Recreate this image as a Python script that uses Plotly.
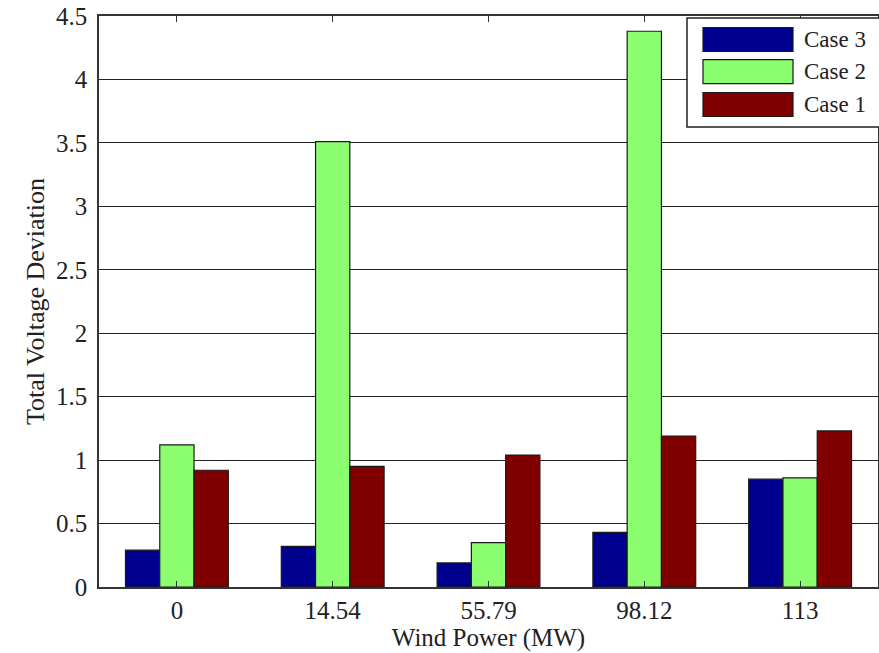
import plotly.graph_objects as go

categories = ["0", "14.54", "55.79", "98.12", "113"]
series_names = ["Case 3", "Case 2", "Case 1"]
case3 = [0.29, 0.32, 0.19, 0.43, 0.85]
case2 = [1.12, 3.51, 0.35, 4.38, 0.86]
case1 = [0.92, 0.95, 1.04, 1.19, 1.23]
y_ticks = [0, 0.5, 1, 1.5, 2, 2.5, 3, 3.5, 4, 4.5]
colors = ["#00008F", "#8CFF70", "#800000"]

W, H = 879, 653
ML, MR, MT, MB = 99, 1, 16, 66
FONT = "Liberation Serif, Times New Roman, serif"

fig = go.Figure()
for name, vals, col in zip(series_names, [case3, case2, case1], colors):
    fig.add_trace(go.Bar(
        x=categories, y=vals, name=name,
        marker=dict(color=col, line=dict(color="#1a1a1a", width=1.2)),
        showlegend=False,
    ))

# custom MATLAB-style legend (paper coordinates from pixel layout)
pw, ph = W - ML - MR, H - MT - MB
def px(x):
    return (x - ML) / pw
def py(y):
    return 1 - (y - MT) / ph

shapes = [dict(type="rect", xref="paper", yref="paper",
               x0=px(687), x1=px(882), y0=py(127), y1=py(18),
               fillcolor="white", line=dict(color="#222", width=1.5), layer="above")]
annotations = []
row_centers = [39.5, 71.7, 104.5]
for name, col, yc in zip(series_names, colors, row_centers):
    shapes.append(dict(type="rect", xref="paper", yref="paper",
                       x0=px(703), x1=px(793), y0=py(yc + 12), y1=py(yc - 12),
                       fillcolor=col, line=dict(color="#1a1a1a", width=1.2), layer="above"))
    annotations.append(dict(xref="paper", yref="paper", x=px(802), y=py(yc),
                            text=name, showarrow=False, xanchor="left", yanchor="middle",
                            font=dict(family=FONT, size=23, color="#222")))

fig.update_layout(
    width=W, height=H,
    margin=dict(l=ML, r=MR, t=MT, b=MB),
    paper_bgcolor="white", plot_bgcolor="white",
    barmode="group", bargap=0.34, bargroupgap=0,
    font=dict(family=FONT, size=24, color="#222"),
    shapes=shapes, annotations=annotations,
    xaxis=dict(
        type="category", showline=True, linecolor="#333", linewidth=1.5, mirror="ticks",
        ticks="inside", ticklen=6, tickcolor="#333", showgrid=False, automargin=False,
        title=dict(text="Wind Power (MW)", font=dict(size=25), standoff=4),
        tickfont=dict(size=25), ticklabelstandoff=0,
    ),
    yaxis=dict(
        range=[0, 4.5], tickvals=y_ticks, showline=True, linecolor="#333", linewidth=1.5,
        mirror=True, ticks="", showgrid=True, gridcolor="#222", gridwidth=1.2,
        zeroline=False, automargin=False, ticklabeloverflow="allow",
        title=dict(text="Total Voltage Deviation", font=dict(size=26), standoff=4),
        tickfont=dict(size=25), ticklabelstandoff=5,
    ),
)

fig.write_html("out.html", config={"displayModeBar": False},
               post_script="document.body.style.margin='0';")
